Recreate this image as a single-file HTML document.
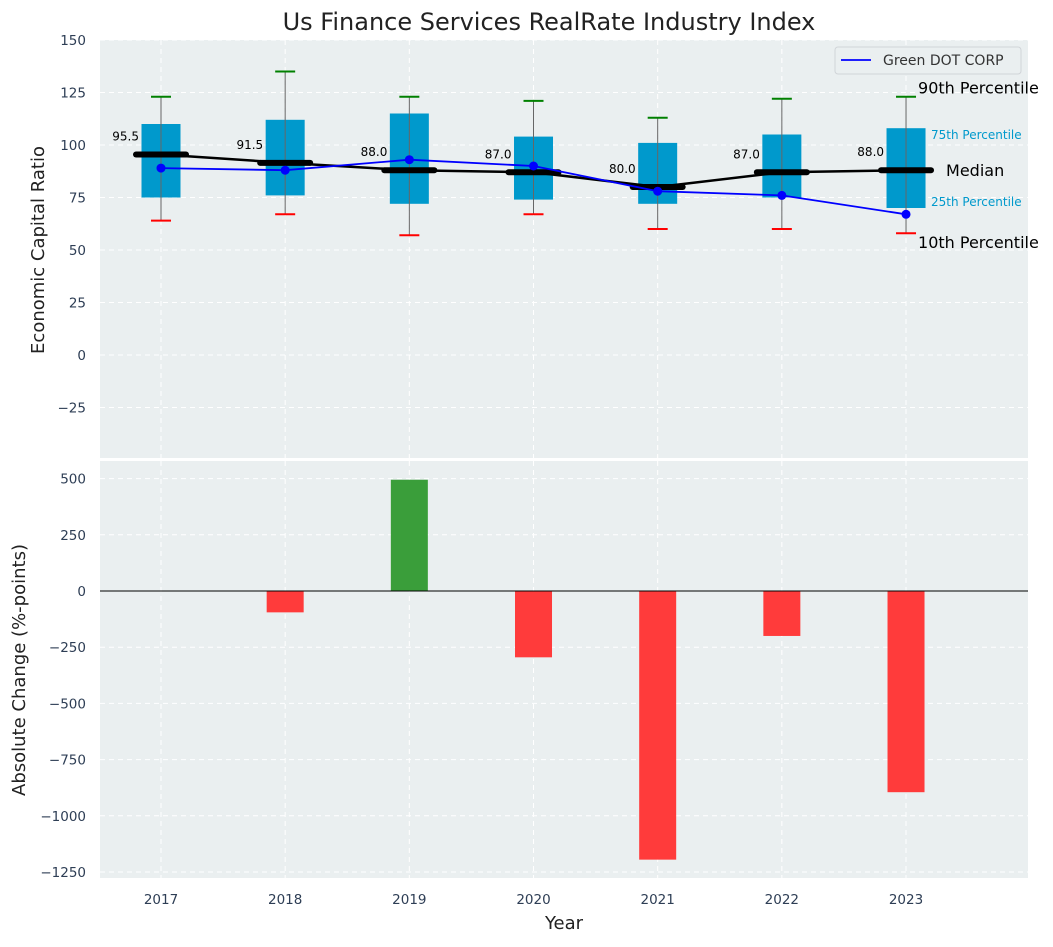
<!DOCTYPE html>
<html><head><meta charset="utf-8"><style>
body{margin:0;background:#fff;}
svg{font-family:"DejaVu Sans","Liberation Sans",sans-serif;}
</style></head><body>
<svg id="c" width="1053" height="942" viewBox="0 0 1053 942"></svg>
<script>
const years=[2017,2018,2019,2020,2021,2022,2023];
const p10=[64,67,57,67,60,60,58];
const q1=[75,76,72,74,72,75,70];
const med=[95.5,91.5,88,87,80,87,88];
const q3=[110,112,115,104,101,105,108];
const p90=[123,135,123,121,113,122,123];
const company=[89,88,93,90,78,76,67];
const change=[0,-95,495,-295,-1195,-200,-895];
const topTicks=[150,125,100,75,50,25,0,-25];
const botTicks=[500,250,0,-250,-500,-750,-1000,-1250];

const NS="http://www.w3.org/2000/svg";
const svg=document.getElementById('c');
function el(t,a,p){const e=document.createElementNS(NS,t);for(const k in a)e.setAttribute(k,a[k]);(p||svg).appendChild(e);return e;}
const X=i=>161+i*124.17;
const YT=v=>355-v*2.1;
const YB=v=>591-v*0.2248;
const fmt=v=>v<0?'\u2212'+(-v):String(v);

let r=el('rect',{x:100,y:40,width:928,height:418,fill:'#eaeff0'});

r=el('rect',{x:100,y:461,width:928,height:417,fill:'#eaeff0'});


topTicks.forEach(v=>{el('line',{x1:100,x2:1028,y1:YT(v),y2:YT(v),stroke:'#fff','stroke-dasharray':'5,4','stroke-width':1});
 const t=el('text',{x:86,y:YT(v)+5,'text-anchor':'end','font-size':13.5,fill:'#2e3e55'});t.textContent=fmt(v);
 });
botTicks.forEach(v=>{el('line',{x1:100,x2:1028,y1:YB(v),y2:YB(v),stroke:'#fff','stroke-dasharray':'5,4','stroke-width':1});
 const t=el('text',{x:86,y:YB(v)+5,'text-anchor':'end','font-size':13.5,fill:'#2e3e55'});t.textContent=fmt(v);
 });
years.forEach((y,i)=>{
 el('line',{x1:X(i),x2:X(i),y1:40,y2:458,stroke:'#fff','stroke-dasharray':'5,4'});
 el('line',{x1:X(i),x2:X(i),y1:461,y2:878,stroke:'#fff','stroke-dasharray':'5,4'});
 const t=el('text',{x:X(i),y:904,'text-anchor':'middle','font-size':13.5,fill:'#2e3e55'});t.textContent=y;
 
});

years.forEach((y,i)=>{
 const x=X(i);
 const b=el('rect',{x:x-19.5,y:YT(q3[i]),width:39,height:YT(q1[i])-YT(q3[i]),fill:'#0099cc'});
 
 el('line',{x1:x,x2:x,y1:YT(p90[i]),y2:YT(p10[i]),stroke:'#666','stroke-width':1});
 const g=el('line',{x1:x-10,x2:x+10,y1:YT(p90[i]),y2:YT(p90[i]),stroke:'green','stroke-width':2});
 
 const rd=el('line',{x1:x-10,x2:x+10,y1:YT(p10[i]),y2:YT(p10[i]),stroke:'red','stroke-width':2});
 
});
el('polyline',{points:years.map((y,i)=>X(i)+','+YT(med[i])).join(' '),fill:'none',stroke:'#000','stroke-width':2.5});
years.forEach((y,i)=>{
 const m=el('line',{x1:X(i)-25,x2:X(i)+25,y1:YT(med[i]),y2:YT(med[i]),stroke:'#000','stroke-width':6,'stroke-linecap':'round'});
 
 const t=el('text',{x:X(i)-22,y:YT(med[i])-14,'text-anchor':'end','font-size':12,fill:'#000'});t.textContent=med[i].toFixed(1);
 
});
const pl=el('polyline',{points:years.map((y,i)=>X(i)+','+YT(company[i])).join(' '),fill:'none',stroke:'blue','stroke-width':1.8});

years.forEach((y,i)=>{const c=el('circle',{cx:X(i),cy:YT(company[i]),r:4.5,fill:'blue'});
 });

const L=X(6);
[['90th Percentile',L+12,YT(p90[6])-3,16,'#000'],['75th Percentile',L+25,YT(q3[6])+11,12,'#0099cc'],['Median',L+40,YT(med[6])+6,16,'#000'],['25th Percentile',L+25,YT(q1[6])-2,12,'#0099cc'],['10th Percentile',L+12,YT(p10[6])+15,16,'#000']].forEach(a=>{
 const t=el('text',{x:a[1],y:a[2],'font-size':a[3],fill:a[4]});t.textContent=a[0];
 });

const lg=el('g',{});
el('rect',{x:835,y:47,width:186,height:27,rx:3,fill:'#eaeff0',stroke:'#d0d4d8'},lg);
el('line',{x1:841,x2:871,y1:60,y2:60,stroke:'blue','stroke-width':1.8},lg);
let lt=el('text',{x:883,y:65,'font-size':14,fill:'#333'},lg);lt.textContent='Green DOT CORP';

years.forEach((y,i)=>{const v=change[i];if(!v)return;
 const b=el('rect',{x:X(i)-18.5,y:Math.min(YB(0),YB(v)),width:37,height:Math.abs(YB(v)-YB(0)),fill:v>0?'#3a9e3a':'#ff3b3b'});
 });
el('line',{x1:100,x2:1028,y1:YB(0),y2:YB(0),stroke:'#000','stroke-width':1});

let t=el('text',{x:549,y:30,'text-anchor':'middle','font-size':24,fill:'#222'});t.textContent='Us Finance Services RealRate Industry Index';

t=el('text',{x:0,y:0,'text-anchor':'middle','font-size':18,fill:'#222',transform:'translate(44,250) rotate(-90)'});t.textContent='Economic Capital Ratio';

t=el('text',{x:0,y:0,'text-anchor':'middle','font-size':18,fill:'#222',transform:'translate(25,670) rotate(-90)'});t.textContent='Absolute Change (%-points)';

t=el('text',{x:564,y:929,'text-anchor':'middle','font-size':18,fill:'#222'});t.textContent='Year';

</script>
</body></html>
